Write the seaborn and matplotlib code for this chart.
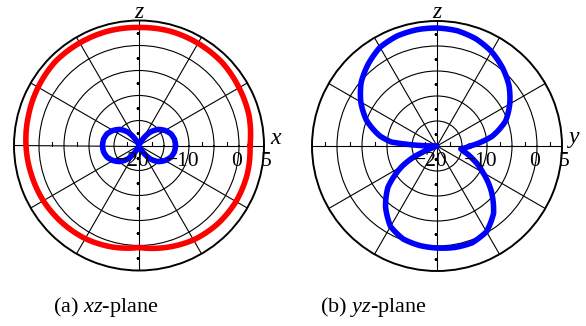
import numpy as np
import pandas as pd
import matplotlib
matplotlib.use("Agg")
import matplotlib.pyplot as plt
import seaborn as sns

# ---------------- data (dB) ----------------
# (a) xz-plane, red pattern, every 15 degrees
red_xz_theta = [0, 15, 30, 45, 60, 75, 90, 105, 120, 135, 150, 165,
                180, 195, 210, 225, 240, 255, 270, 285, 300, 315, 330, 345]
red_xz_db = [2.2, 2.8, 3.1, 3.5, 3.6, 3.7, 3.6, 3.7, 3.7, 3.7, 3.3, 2.9,
             2.6, 2.3, 2.1, 1.8, 1.5, 1.0, 0.4, 1.1, 1.8, 2.2, 2.4, 2.4]

# (a) xz-plane, blue pattern, every 10 degrees
blue_xz_theta = list(range(0, 360, 10))
blue_xz_db = [-12.7, -12.8, -13.2, -14.0, -15.0, -16.5, -18.7, -20, -20,
              -20, -20, -20, -18.7, -16.5, -15.0, -14.0, -13.2, -12.8,
              -12.7, -12.8, -13.2, -14.0, -15.0, -16.5, -18.7, -20, -20,
              -20, -20, -20, -18.7, -16.5, -15.0, -14.0, -13.2, -12.8]

# (b) yz-plane, blue pattern
blue_yz_theta = [0, 5, 10, 20, 30, 40, 50, 60, 70, 80, 90, 100, 110, 120,
                 130, 140, 150, 160, 170, 175, 180, 190, 200, 205, 210, 220,
                 230, 240, 250, 260, 270, 280, 290, 300, 310, 320, 330, 340,
                 348, 353]
blue_yz_db = [-13.4, -11.2, -8.8, -5.4, -3.2, -1.2, 0.4, 1.8, 2.8, 3.4, 3.6,
              3.6, 3.4, 2.8, 1.4, -0.2, -2.4, -5.0, -8.4, -10.8, -20, -20,
              -20, -15.0, -12.0, -7.2, -4.0, -1.4, -0.2, 0.2, 0.4, 0.6, 0.6,
              -0.2, -2.4, -5.8, -9.4, -12.4, -14.4, -15.2]

r_min, r_max = -20, 5
ring_values = [-15, -10, -5, 0]
minor_r_ticks = [-17.5, -12.5, -7.5, -2.5, 2.5]
tick_label_values = [-20, -10, 0, 5]
tick_label_texts = ["\u221220", "\u221210", "0", "5"]
captions = ["(a) $\\mathit{xz}$-plane", "(b) $\\mathit{yz}$-plane"]
axis_letters = [("z", "x"), ("z", "y")]

# ---------------- style ----------------
sns.set_theme(style="white")
plt.rcParams["font.family"] = ["Liberation Serif", "DejaVu Serif"]
plt.rcParams["text.color"] = "black"
plt.rcParams["mathtext.fontset"] = "custom"
plt.rcParams["mathtext.rm"] = "Liberation Serif"
plt.rcParams["mathtext.it"] = "Liberation Serif:italic"

W, H = 586, 326
fig = plt.figure(figsize=(W / 100, H / 100), dpi=100)
fig.patch.set_facecolor("white")

R_PX = 125
centers = [(139, 145.5), (437, 146)]
axes = []
for cx, cy in centers:
    ax = fig.add_axes([(cx - R_PX) / W, (H - cy - R_PX) / H,
                       2 * R_PX / W, 2 * R_PX / H], projection="polar")
    axes.append(ax)


def closed(theta_deg, vals):
    th = np.deg2rad(list(theta_deg) + [theta_deg[0] + 360])
    return pd.DataFrame({"theta": th, "r": list(vals) + [vals[0]]})


def style(ax):
    ax.set_facecolor("white")
    ax.set_ylim(r_min, r_max)
    ax.set_yticks(ring_values)
    ax.set_yticklabels([])
    ax.set_xticks(np.deg2rad(np.arange(0, 360, 30)))
    ax.set_xticklabels([])
    ax.set_xticks(np.deg2rad(np.arange(0, 360, 10)), minor=True)
    ax.grid(True, which="major", color="black", lw=0.8)
    ax.spines["polar"].set_color("black")
    ax.spines["polar"].set_linewidth(1.4)
    ax.tick_params(axis="x", which="both", direction="in", length=3,
                   width=0.8, color="black", pad=0)
    ax.tick_params(axis="y", length=0)
    # small ticks along the horizontal axis
    for th in (0, np.pi):
        ax.plot(np.full(len(minor_r_ticks), th), minor_r_ticks, ls="none",
                marker=2, ms=3, mew=0.8, color="black", zorder=3)
    for th in (np.pi / 2, 3 * np.pi / 2):
        ax.plot(np.full(len(minor_r_ticks), th), minor_r_ticks, ls="none",
                marker=0, ms=2.5, mew=0.8, color="black", zorder=3)


line_kw = dict(lw=4.0, estimator=None, sort=False, legend=False,
               solid_joinstyle="round", solid_capstyle="round")

axL, axR = axes
style(axL)
style(axR)


def pattern(ax, df, color, z):
    n = len(ax.lines)
    sns.lineplot(data=df, x="theta", y="r", ax=ax, color=color, zorder=z,
                 **line_kw)
    for ln in ax.lines[n:]:
        # let the polar projection draw straight (theta, r) segments as arcs
        ln.get_path()._interpolation_steps = 30


pattern(axL, closed(red_xz_theta, red_xz_db), "#ff0000", 4)
pattern(axL, closed(blue_xz_theta, blue_xz_db), "#0000ff", 5)
pattern(axR, closed(blue_yz_theta, blue_yz_db), "#0000ff", 5)

label_dx = [-6, -6, -2, 2]
for ax in axes:
    ax.set_xlabel("")
    ax.set_ylabel("")
    for v, t, dx in zip(tick_label_values, tick_label_texts, label_dx):
        ax.annotate(t, xy=(0, v), xytext=(dx, -15.5),
                    textcoords="offset pixels", ha="center", va="center",
                    fontsize=15.5, color="black", zorder=6,
                    annotation_clip=False)

# axis letters
for (cx, cy), (top, right) in zip(centers, axis_letters):
    fig.text(cx / W, 1 - 12 / H, top, ha="center", va="center",
             fontsize=17, style="italic", color="black")
    fig.text((cx + 137) / W, 1 - 138 / H, right, ha="center", va="center",
             fontsize=17, style="italic", color="black")

# captions
for x, cap in zip([106, 373], captions):
    fig.text(x / W, 1 - 307 / H, cap, ha="center", va="center", fontsize=16,
             color="black")

fig.savefig("out.png", dpi=100, facecolor="white")
